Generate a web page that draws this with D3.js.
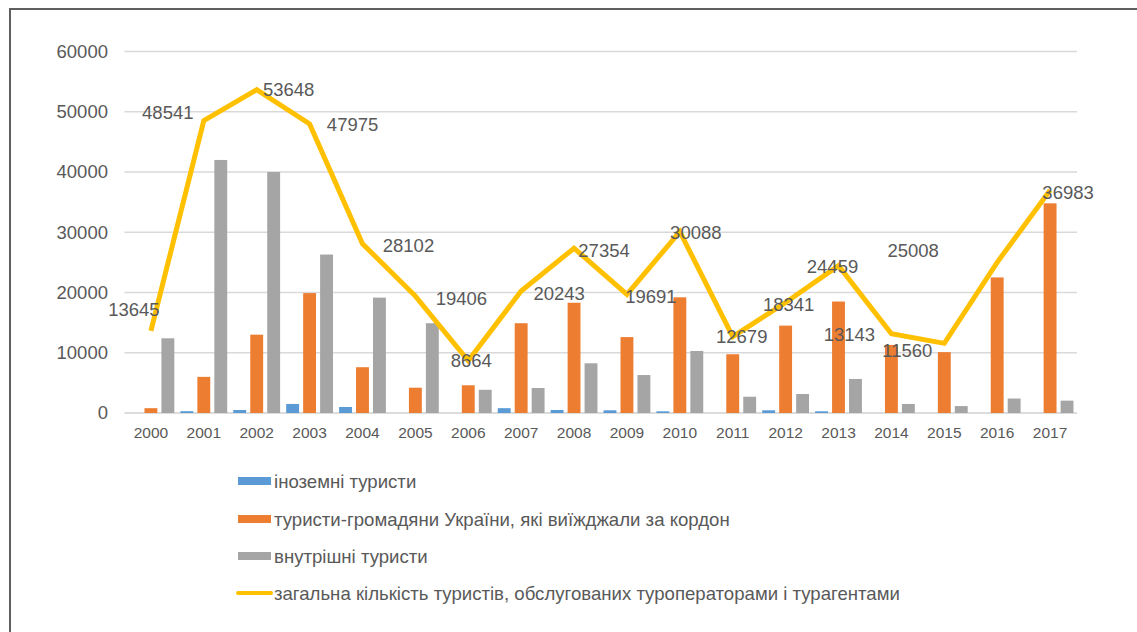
<!DOCTYPE html>
<html>
<head>
<meta charset="utf-8">
<script src="https://cdn.jsdelivr.net/npm/d3@7"></script>
<style>
  body { margin: 0; background: #fff; }
  text { font-family: "Liberation Sans", Arial, sans-serif; fill: #595959; }
</style>
</head>
<body>
<div id="chart"></div>
<script>
// data
const years = ["2000","2001","2002","2003","2004","2005","2006","2007","2008",
               "2009","2010","2011","2012","2013","2014","2015","2016","2017"];
const foreign  = [0, 300, 500, 1500, 1000, 0, 0, 800, 500, 450, 280, 0, 450, 280, 0, 0, 0, 0];
const outbound = [800, 6000, 13000, 19900, 7600, 4200, 4600, 14900, 18300, 12600, 19200,
                  9750, 14500, 18500, 11300, 10100, 22500, 34800];
const domestic = [12400, 42000, 40000, 26300, 19150, 14900, 3850, 4150, 8250, 6300, 10300,
                  2700, 3150, 5650, 1500, 1150, 2400, 2050];
const total    = [13645, 48541, 53648, 47975, 28102, 19406, 8664, 20243, 27354, 19691, 30088,
                  12679, 18341, 24459, 13143, 11560, 25008, 36983];
const yTicks = [0, 10000, 20000, 30000, 40000, 50000, 60000];

const seriesNames = ["іноземні туристи",
                     "туристи-громадяни України, які виїжджали за кордон",
                     "внутрішні туристи",
                     "загальна кількість туристів, обслугованих туроператорами і турагентами"];
const colors = ["#5b9bd5", "#ed7d31", "#a5a5a5", "#ffc000"];

// label offsets (px) relative to line points, as placed in the original
const labelDx = [-17, -36, 32, 43, 46, 46, 3, 38, 30, 24, 16, 9, 3, -6, -42, -37, -84, 18];
const labelDy = [-21, -8, 0, 1, 2, 2, 0, 2, 2, 2, 1, 0, 2, 1, 1, 7, -12, 2];

const W = 1137, H = 632;
const svg = d3.select("#chart").append("svg")
    .attr("width", W).attr("height", H);

// frame
svg.append("path")
    .attr("d", `M10,${H} L10,9 L${W},9`)
    .attr("fill", "none").attr("stroke", "#5f5f5f").attr("stroke-width", 2);

const x0 = d3.scaleBand().domain(years).range([124.5, 1076.5]).paddingInner(0.115).paddingOuter(0.057);
const x1 = d3.scaleBand().domain([0, 1, 2]).range([0, x0.bandwidth()]).paddingInner(0.24);
const y = d3.scaleLinear().domain([0, 60000]).range([413, 51.5]);

// gridlines
svg.append("g").selectAll("line").data(yTicks).join("line")
    .attr("x1", 124.5).attr("x2", 1077)
    .attr("y1", d => y(d)).attr("y2", d => y(d))
    .attr("stroke", d => d === 0 ? "#d0d0d0" : "#d9d9d9").attr("stroke-width", 1.6);

// y axis labels
const yAxis = svg.append("g")
    .attr("transform", "translate(108,0)")
    .call(d3.axisLeft(y).tickValues(yTicks).tickFormat(d3.format("d")).tickSize(0).tickPadding(0));
yAxis.select(".domain").remove();
yAxis.selectAll("text").attr("font-size", 18.5).attr("fill", "#595959")
    .style("font-family", "'Liberation Sans', Arial, sans-serif");

// x axis labels
const xAxis = svg.append("g")
    .attr("transform", "translate(0,427)")
    .call(d3.axisBottom(x0).tickSize(0).tickPadding(0));
xAxis.select(".domain").remove();
xAxis.selectAll("text").attr("font-size", 15.5).attr("fill", "#595959")
    .style("font-family", "'Liberation Sans', Arial, sans-serif");

// bars
const barSeries = [foreign, outbound, domestic];
barSeries.forEach((vals, si) => {
  svg.append("g").selectAll("rect").data(vals).join("rect")
      .attr("x", (d, i) => x0(years[i]) + x1(si))
      .attr("width", x1.bandwidth())
      .attr("y", d => y(d))
      .attr("height", d => y(0) - y(d))
      .attr("fill", colors[si]);
});

// total line
const cx = i => x0(years[i]) + x0.bandwidth() / 2;
const line = d3.line()
    .x((d, i) => cx(i))
    .y(d => y(d));
svg.append("path")
    .datum(total)
    .attr("d", line)
    .attr("fill", "none")
    .attr("stroke", colors[3])
    .attr("stroke-width", 5)
    .attr("stroke-linejoin", "miter");

// data labels
svg.append("g").selectAll("text").data(total).join("text")
    .attr("x", (d, i) => cx(i) + labelDx[i])
    .attr("y", (d, i) => y(d) + labelDy[i])
    .attr("dy", "0.35em")
    .attr("text-anchor", "middle")
    .attr("font-size", 18.5)
    .text(d => d);

// legend
const legend = svg.append("g");
const legendY = [481, 519, 556, 593];
seriesNames.forEach((name, i) => {
  if (i < 3) {
    legend.append("rect")
        .attr("x", 238).attr("y", legendY[i] - 4)
        .attr("width", 33).attr("height", 8)
        .attr("fill", colors[i]);
  } else {
    legend.append("line")
        .attr("x1", 238).attr("x2", 271)
        .attr("y1", legendY[i]).attr("y2", legendY[i])
        .attr("stroke", colors[i]).attr("stroke-width", 4)
        .attr("stroke-linecap", "round");
  }
  legend.append("text")
      .attr("x", 274).attr("y", legendY[i])
      .attr("dy", "0.35em")
      .attr("font-size", 18.6)
      .attr("textLength", null)
      .text(name);
});
</script>
</body>
</html>
